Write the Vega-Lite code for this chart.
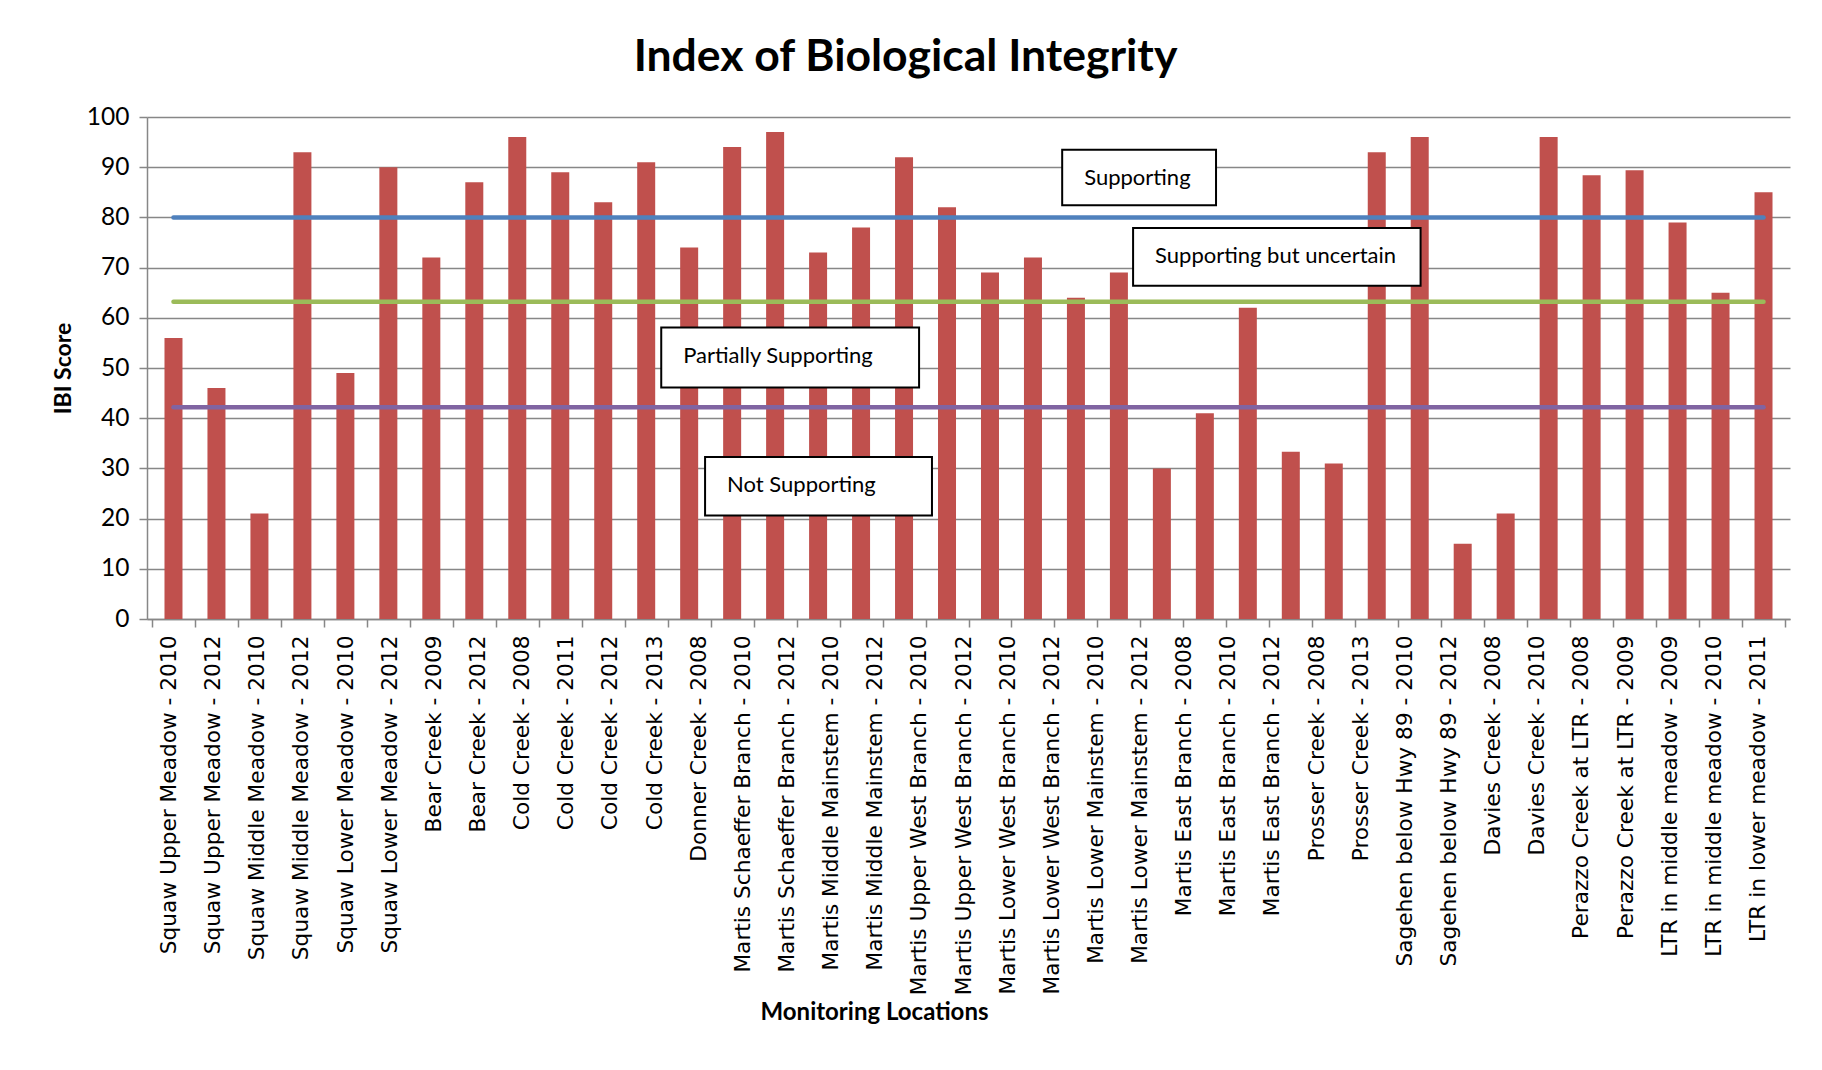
{
  "$schema": "https://vega.github.io/schema/vega-lite/v6.json",
  "width": 1643,
  "height": 502,
  "autosize": "none",
  "padding": {"left": 147, "top": 117, "right": 32, "bottom": 451},
  "background": "white",
  "config": {"view": {"stroke": null}},
  "title": {"text": "Index of Biological Integrity", "font": "Lato", "fontSize": 44.5, "fontWeight": "bold", "color": "black", "anchor": "middle", "dx": -63, "offset": -11, "baseline": "alphabetic"},
  "datasets": {
    "scores": [
      {"bar": 1, "score": 56}, {"bar": 2, "score": 46}, {"bar": 3, "score": 21}, {"bar": 4, "score": 93},
      {"bar": 5, "score": 49}, {"bar": 6, "score": 90}, {"bar": 7, "score": 72}, {"bar": 8, "score": 87},
      {"bar": 9, "score": 96}, {"bar": 10, "score": 89}, {"bar": 11, "score": 83}, {"bar": 12, "score": 91},
      {"bar": 13, "score": 74}, {"bar": 14, "score": 94}, {"bar": 15, "score": 97}, {"bar": 16, "score": 73},
      {"bar": 17, "score": 78}, {"bar": 18, "score": 92}, {"bar": 19, "score": 82}, {"bar": 20, "score": 69},
      {"bar": 21, "score": 72}, {"bar": 22, "score": 64}, {"bar": 23, "score": 69}, {"bar": 24, "score": 30},
      {"bar": 25, "score": 41}, {"bar": 26, "score": 62}, {"bar": 27, "score": 33.3}, {"bar": 28, "score": 31},
      {"bar": 29, "score": 93}, {"bar": 30, "score": 96}, {"bar": 31, "score": 15}, {"bar": 32, "score": 21},
      {"bar": 33, "score": 96}, {"bar": 34, "score": 88.4}, {"bar": 35, "score": 89.4}, {"bar": 36, "score": 79},
      {"bar": 37, "score": 65}, {"bar": 38, "score": 85}
    ],
    "sites": [
      {"site": "Squaw Upper Meadow - 2010"}, {"site": "Squaw Upper Meadow - 2012"},
      {"site": "Squaw Middle Meadow - 2010"}, {"site": "Squaw Middle Meadow - 2012"},
      {"site": "Squaw Lower Meadow - 2010"}, {"site": "Squaw Lower Meadow - 2012"},
      {"site": "Bear Creek - 2009"}, {"site": "Bear Creek - 2012"},
      {"site": "Cold Creek - 2008"}, {"site": "Cold Creek - 2011"}, {"site": "Cold Creek - 2012"}, {"site": "Cold Creek - 2013"},
      {"site": "Donner Creek - 2008"},
      {"site": "Martis Schaeffer Branch - 2010"}, {"site": "Martis Schaeffer Branch - 2012"},
      {"site": "Martis Middle Mainstem - 2010"}, {"site": "Martis Middle Mainstem - 2012"},
      {"site": "Martis Upper West Branch - 2010"}, {"site": "Martis Upper West Branch - 2012"},
      {"site": "Martis Lower West Branch - 2010"}, {"site": "Martis Lower West Branch - 2012"},
      {"site": "Martis Lower Mainstem - 2010"}, {"site": "Martis Lower Mainstem - 2012"},
      {"site": "Martis East Branch - 2008"}, {"site": "Martis East Branch - 2010"}, {"site": "Martis East Branch - 2012"},
      {"site": "Prosser Creek - 2008"}, {"site": "Prosser Creek - 2013"},
      {"site": "Sagehen below Hwy 89 - 2010"}, {"site": "Sagehen below Hwy 89 - 2012"},
      {"site": "Davies Creek - 2008"}, {"site": "Davies Creek - 2010"},
      {"site": "Perazzo Creek at LTR - 2008"}, {"site": "Perazzo Creek at LTR - 2009"},
      {"site": "LTR in middle meadow - 2009"}, {"site": "LTR in middle meadow - 2010"},
      {"site": "LTR in lower meadow - 2011"}
    ],
    "thresholds": [
      {"level": "Supporting", "score": 80},
      {"level": "Supporting but uncertain", "score": 63.2},
      {"level": "Partially Supporting", "score": 42.2}
    ],
    "boxes": [
      {"label": "Supporting", "x1": 21.68, "x2": 25.26, "top": 93.5, "bottom": 82.4},
      {"label": "Supporting but uncertain", "x1": 23.33, "x2": 30.02, "top": 77.9, "bottom": 66.4},
      {"label": "Partially Supporting", "x1": 12.35, "x2": 18.35, "top": 58.05, "bottom": 46.1},
      {"label": "Not Supporting", "x1": 13.37, "x2": 18.65, "top": 32.25, "bottom": 20.6}
    ]
  },
  "layer": [
    {
      "layer": [
        {
          "data": {"name": "scores"},
          "mark": {"type": "bar", "size": 18, "color": "#C0504D", "orient": "vertical"},
          "encoding": {
            "x": {"field": "bar", "type": "quantitative", "scale": {"domain": [0.5, 38.5], "nice": false, "zero": false},
              "axis": {"orient": "bottom", "values": [0.5,1.5,2.5,3.5,4.5,5.5,6.5,7.5,8.5,9.5,10.5,11.5,12.5,13.5,14.5,15.5,16.5,17.5,18.5,19.5,20.5,21.5,22.5,23.5,24.5,25.5,26.5,27.5,28.5,29.5,30.5,31.5,32.5,33.5,34.5,35.5,36.5,37.5,38.5],
                "labels": false, "grid": false, "title": null, "tickSize": 8, "tickColor": "#878787", "tickWidth": 1.5, "domainColor": "#878787", "domainWidth": 1.5}},
            "y": {"field": "score", "type": "quantitative", "scale": {"domain": [0, 100], "nice": false},
              "axis": {"values": [0,10,20,30,40,50,60,70,80,90,100], "grid": true, "gridColor": "#878787", "gridWidth": 1.5,
                "domainColor": "#878787", "domainWidth": 1.5, "tickColor": "#878787", "tickWidth": 1.5, "tickSize": 8,
                "labelFont": "Lato", "labelFontSize": 24.5, "labelColor": "black", "labelPadding": 10,
                "title": "IBI Score", "titleFont": "Lato", "titleFontSize": 23, "titleFontWeight": "bold", "titleColor": "black", "titlePadding": 11}}
          }
        },
        {
          "data": {"name": "thresholds"},
          "mark": {"type": "rule", "strokeWidth": 4.5, "strokeCap": "round"},
          "encoding": {
            "x": {"datum": 1, "type": "quantitative"},
            "x2": {"datum": 38},
            "y": {"field": "score", "type": "quantitative"},
            "color": {"field": "level", "type": "nominal", "legend": null,
              "scale": {"domain": ["Supporting", "Supporting but uncertain", "Partially Supporting"], "range": ["#4F81BD", "#9BBB59", "#8064A2"]}}
          }
        },
        {
          "data": {"name": "boxes"},
          "mark": {"type": "rect", "fill": "white", "stroke": "black", "strokeWidth": 2},
          "encoding": {
            "x": {"field": "x1", "type": "quantitative"},
            "x2": {"field": "x2"},
            "y": {"field": "top", "type": "quantitative"},
            "y2": {"field": "bottom"}
          }
        },
        {
          "data": {"name": "boxes"},
          "mark": {"type": "text", "font": "Lato", "fontSize": 22, "color": "black", "align": "left", "baseline": "middle", "dx": 22, "dy": 28},
          "encoding": {
            "x": {"field": "x1", "type": "quantitative"},
            "y": {"field": "top", "type": "quantitative"},
            "text": {"field": "label"}
          }
        }
      ]
    },
    {
      "data": {"name": "sites"},
      "mark": {"type": "point", "opacity": 0},
      "encoding": {
        "x": {"field": "site", "type": "nominal", "sort": null,
          "scale": {"type": "band", "paddingInner": 0, "paddingOuter": 0, "range": [0, 1633]},
          "axis": {"orient": "bottom", "labelAngle": 270, "labelFont": "DejaVu Sans", "labelFontSize": 21.7, "labelColor": "black",
            "ticks": false, "domain": false, "grid": false, "labelPadding": 16, "labelLimit": 600,
            "title": "Monitoring Locations", "titleFont": "Lato", "titleFontSize": 24, "titleFontWeight": "bold", "titleColor": "black",
            "titleX": 727, "titleY": 400, "titleBaseline": "alphabetic", "titleAlign": "center"}}
      }
    }
  ],
  "resolve": {"scale": {"x": "independent"}, "axis": {"x": "independent"}}
}
